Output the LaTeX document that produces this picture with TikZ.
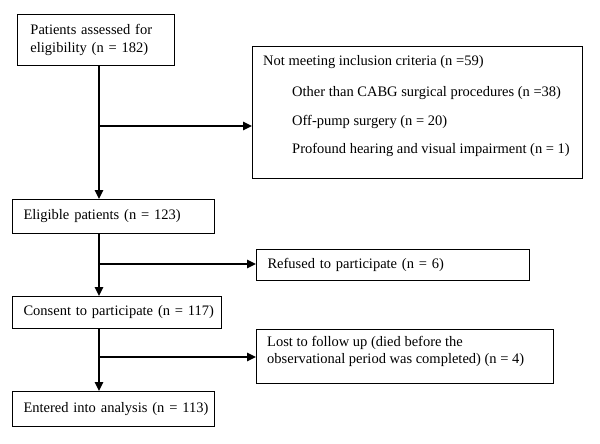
\documentclass[tikz,border=0pt]{standalone}
\usepackage{fontspec}
\setmainfont{Liberation Serif}
\usetikzlibrary{arrows.meta}
\begin{document}
\begin{tikzpicture}[x=1pt,y=-1pt,
  box/.style={draw, line width=1pt, anchor=north west, inner xsep=11pt, inner ysep=0pt, align=left, font=\fontsize{14.5}{17}\selectfont},
  frame/.style={draw, line width=1pt, anchor=north west, inner sep=0pt},
  txt/.style={anchor=base west, inner sep=0pt, font=\fontsize{14.5}{17}\selectfont},
  conn/.style={line width=1.6pt, -{Triangle[length=9pt,width=8.5pt]}}]
\useasboundingbox (0,0) rectangle (600,444);
\fill[white] (0,0) rectangle (600,444);
% boxes
\node[box, minimum width=157pt, minimum height=51pt, text width=131pt, inner xsep=13pt, font=\fontsize{14.5}{17.6}\selectfont] (assess) at (17,14) {Patients assessed for\\eligibility (n = 182)};
\node[frame, minimum width=330pt, minimum height=132pt] (excl) at (252,46) {};
\node[txt] (e0) at (263,65.3) {Not meeting inclusion criteria (n =59)};
\node[txt] (e1) at (292,96.3) {Other than CABG surgical procedures (n =38)};
\node[txt] (e2) at (292,125.3) {Off-pump surgery (n = 20)};
\node[txt] (e3) at (292,153.3) {Profound hearing and visual impairment (n = 1)};
\node[box, minimum width=202pt, minimum height=34pt, text width=180pt] (elig) at (12,199) {\mbox{Eligible patients (n = 123)}};
\node[box, minimum width=273pt, minimum height=31pt, text width=251pt] (refused) at (256,249) {\mbox{Refused to participate (n = 6)}};
\node[box, minimum width=209pt, minimum height=32pt, text width=187pt] (consent) at (12,296) {\mbox{Consent to participate (n = 117)}};
\node[frame, minimum width=297pt, minimum height=54pt] (lost) at (256,329) {};
\node[txt] (l1) at (267,346.3) {Lost to follow up (died before the};
\node[txt] (l2) at (267,363.3) {observational period was completed) (n = 4)};
\node[box, minimum width=202pt, minimum height=35pt, text width=180pt] (entered) at (12,391) {\mbox{Entered into analysis (n = 113)}};
% connectors
\coordinate (spine) at (99,0);
\coordinate (j1) at (99,126);
\coordinate (j2) at (99,264);
\coordinate (j3) at (99,357);
\draw[conn] (assess.south -| spine) -- (elig.north -| spine);
\draw[conn] (j1) -- (j1 -| excl.west);
\draw[conn] (elig.south -| spine) -- (consent.north -| spine);
\draw[conn] (j2) -- (j2 -| refused.west);
\draw[conn] (consent.south -| spine) -- (entered.north -| spine);
\draw[conn] (j3) -- (j3 -| lost.west);
\end{tikzpicture}
\end{document}
